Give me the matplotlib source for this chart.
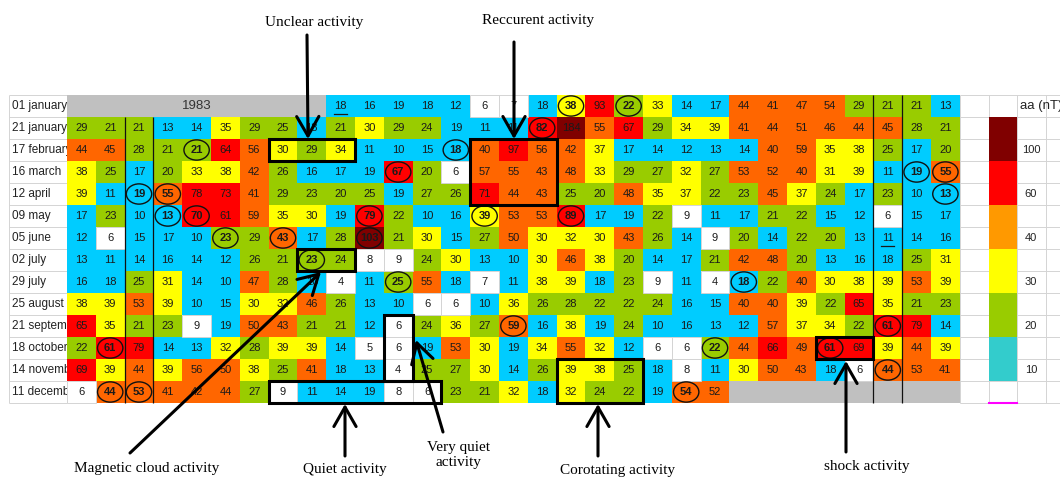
import matplotlib.pyplot as plt
import numpy as np
from matplotlib.colors import ListedColormap, BoundaryNorm
from matplotlib.patches import Rectangle, Ellipse

plt.rcParams['font.family'] = ['Liberation Sans', 'DejaVu Sans']

# Daily aa index (nT), 1983, Bartels-like rows of 27 days + 4 days overlap
rows = ["01 january", "21 january", "17 february", "16 march", "12 april", "09 may",
        "05 june", "02 july", "29 july", "25 august", "21 september", "18 october",
        "14 november", "11 december"]

nan = np.nan
aa = np.array([
    [nan] * 9 + [18, 16, 19, 18, 12, 6, 7, 18, 38, 93, 22, 33, 14, 17, 44, 41, 47, 54, 29, 21, 21, 13],
    [29, 21, 21, 13, 14, 35, 29, 25, 18, 21, 30, 29, 24, 19, 11, 11, 82, 184, 55, 67, 29, 34, 39, 41, 44, 51, 46, 44, 45, 28, 21],
    [44, 45, 28, 21, 21, 64, 56, 30, 29, 34, 11, 10, 15, 18, 40, 97, 56, 42, 37, 17, 14, 12, 13, 14, 40, 59, 35, 38, 25, 17, 20],
    [38, 25, 17, 20, 33, 38, 42, 26, 16, 17, 19, 67, 20, 6, 57, 55, 43, 48, 33, 29, 27, 32, 27, 53, 52, 40, 31, 39, 11, 19, 55],
    [39, 11, 19, 55, 78, 73, 41, 29, 23, 20, 25, 19, 27, 26, 71, 44, 43, 25, 20, 48, 35, 37, 22, 23, 45, 37, 24, 17, 23, 10, 13],
    [17, 23, 10, 13, 70, 61, 59, 35, 30, 19, 79, 22, 10, 16, 39, 53, 53, 89, 17, 19, 22, 9, 11, 17, 21, 22, 15, 12, 6, 15, 17],
    [12, 6, 15, 17, 10, 23, 29, 43, 17, 28, 103, 21, 30, 15, 27, 50, 30, 32, 30, 43, 26, 14, 9, 20, 14, 22, 20, 13, 11, 14, 16],
    [13, 11, 14, 16, 14, 12, 26, 21, 23, 24, 8, 9, 24, 30, 13, 10, 30, 46, 38, 20, 14, 17, 21, 42, 48, 20, 13, 16, 18, 25, 31],
    [16, 18, 25, 31, 14, 10, 47, 28, 10, 4, 11, 25, 55, 18, 7, 11, 38, 39, 18, 23, 9, 11, 4, 18, 22, 40, 30, 38, 39, 53, 39],
    [38, 39, 53, 39, 10, 15, 30, 32, 46, 26, 13, 10, 6, 6, 10, 36, 26, 28, 22, 22, 24, 16, 15, 40, 40, 39, 22, 65, 35, 21, 23],
    [65, 35, 21, 23, 9, 19, 50, 43, 21, 21, 12, 6, 24, 36, 27, 59, 16, 38, 19, 24, 10, 16, 13, 12, 57, 37, 34, 22, 61, 79, 14],
    [22, 61, 79, 14, 13, 32, 28, 39, 39, 14, 5, 6, 19, 53, 30, 19, 34, 55, 32, 12, 6, 6, 22, 44, 66, 49, 61, 69, 39, 44, 39],
    [69, 39, 44, 39, 56, 50, 38, 25, 41, 18, 13, 4, 25, 27, 30, 14, 26, 39, 38, 25, 18, 8, 11, 30, 50, 43, 18, 6, 44, 53, 41],
    [6, 44, 53, 41, 42, 44, 27, 9, 11, 14, 19, 8, 6, 23, 21, 32, 18, 32, 24, 22, 19, 54, 52] + [nan] * 8,
])

# circled days (row, col) and underlined days
circled = [(0, 17), (0, 19), (1, 16), (2, 4), (2, 13), (3, 11), (3, 29), (3, 30), (4, 2), (4, 3),
           (4, 30), (5, 3), (5, 4), (5, 10), (5, 14), (5, 17), (6, 5), (6, 7), (6, 10), (7, 8),
           (8, 11), (8, 23), (10, 15), (10, 28), (11, 1), (11, 22), (11, 26), (12, 28), (13, 1),
           (13, 2), (13, 21)]
underlined = [(0, 9), (6, 28)]

# boxed events: (first row, last row + 1, first col, last col + 1)
boxes = [(2, 3, 7, 10), (2, 5, 14, 17), (7, 8, 8, 10), (13, 14, 7, 13),
         (10, 13, 11, 12), (12, 14, 17, 20), (11, 12, 26, 28)]

bounds = [0, 10, 20, 30, 40, 60, 100, 1000]
cell_colors = ['#FFFFFF', '#00CCFF', '#99CC00', '#FFFF00', '#FF6600', '#FF0000', '#800000']

legend_labels = ['100', '60', '40', '30', '20', '10']
legend_colors = ['#800000', '#FF0000', '#FF9900', '#FFFF00', '#99CC00', '#33CCCC']

# annotations: text, text centre (px), arrow tail (px), arrow tip (px)
notes = [
    ("Unclear activity", (314, 22), (307, 35), (308, 139)),
    ("Reccurent activity", (538, 20), (514, 42), (514, 139)),
    ("Magnetic cloud activity", (147, 468), (130, 453), (321, 272)),
    ("Quiet activity", (345, 469), (345, 456), (345, 404)),
    ("Very quiet\nactivity", (458, 455), (443, 432), (416, 340)),
    ("Corotating activity", (618, 470), (598, 456), (598, 404)),
    ("shock activity", (867, 466), (846, 452), (846, 361)),
]

W, H = 1060, 479
X0, Y0, CW, RH = 67, 95, 28.8, 22.0


def px(x, y):
    return ((x - X0) / CW, (y - Y0) / RH)


fig = plt.figure(figsize=(W / 100, H / 100), dpi=100)
ax = fig.add_axes([0, 0, 1, 1])
ax.set_xlim(-X0 / CW, (W - X0) / CW)
ax.set_ylim((H - Y0) / RH, -Y0 / RH)
ax.axis('off')

nr, nc = aa.shape
cmap = ListedColormap(cell_colors)
cmap.set_bad('#C0C0C0')
norm = BoundaryNorm(bounds, cmap.N)
ax.pcolormesh(np.arange(nc + 1), np.arange(nr + 1), np.ma.masked_invalid(aa),
              cmap=cmap, norm=norm, zorder=1)

# spreadsheet grid on white cells
for r in range(nr):
    for c in range(nc):
        v = aa[r, c]
        if not np.isnan(v) and v < 10:
            ax.add_patch(Rectangle((c, r), 1, 1, fill=False, ec='#d4d4d4', lw=0.7, zorder=2))

for r in range(nr):
    for c in range(nc):
        v = aa[r, c]
        if np.isnan(v):
            continue
        bold = (r, c) in circled
        ax.text(c + 0.5, r + 0.52, str(int(v)), ha='center', va='center', fontsize=8,
                color='#1a1a1a', fontweight='bold' if bold else 'normal', zorder=4)

ax.text(4.5, 0.5, "1983", ha='center', va='center', fontsize=9.5, color='#333333', zorder=4)

for r, c in circled:
    ax.add_patch(Ellipse((c + 0.5, r + 0.5), 0.88, 0.92, fill=False, ec='#111111', lw=1.0, zorder=5))
for r, c in underlined:
    ax.plot([c + 0.28, c + 0.72], [r + 0.85, r + 0.85], color='#1a1a1a', lw=0.9, zorder=5)

# rotation separators
ax.vlines([2, 3], 1, nr, color='#111111', lw=0.9, zorder=3)
ax.vlines([28, 29], 0, nr, color='#111111', lw=0.9, zorder=3)

# label column with faint grid; labels sit under the cells so they get cut at the table edge
ax.hlines(np.arange(nr + 1), -2.0, 0, color='#d4d4d4', lw=0.7, zorder=0)
ax.vlines([-2.0], 0, nr, color='#d4d4d4', lw=0.7, zorder=0)
for r, name in enumerate(rows):
    ax.text(-1.91, r + 0.52, name, ha='left', va='center', fontsize=8.5,
            color='#222222', zorder=0.5)

# right side grid + colour legend
ax.hlines(np.arange(nr + 1), nc, nc + 3.6, color='#d4d4d4', lw=0.7, zorder=0)
ax.vlines([nc, nc + 1, nc + 2, nc + 3], 0, nr, color='#d4d4d4', lw=0.7, zorder=0)
leg_cmap = ListedColormap(legend_colors)
ax.pcolormesh([nc + 1, nc + 2], np.arange(1, 2 * len(legend_labels) + 2, 2),
              np.arange(len(legend_labels)).reshape(-1, 1), cmap=leg_cmap,
              vmin=-0.5, vmax=len(legend_labels) - 0.5, zorder=2)
for i, lab in enumerate(legend_labels):
    ax.text(nc + 2.47, 2 * i + 2.5, lab, ha='center', va='center', fontsize=8, color='#222222')
ax.text(nc + 2.1, 0.5, "aa (nT)", ha='left', va='center', fontsize=9.5, color='#222222')
ax.plot([nc + 1, nc + 2], [nr, nr], color='#FF00FF', lw=1.5)

for r0, r1, c0, c1 in boxes:
    ax.add_patch(Rectangle((c0, r0), c1 - c0, r1 - r0, fill=False, ec='black', lw=2.2, zorder=6))

for text, pos, tail, tip in notes:
    ax.text(*px(*pos), text, ha='center', va='center', fontsize=11,
            family='Liberation Serif', linespacing=1.25, zorder=7)
    ax.annotate('', xy=px(*tip), xytext=px(*tail),
                arrowprops=dict(arrowstyle='->,head_length=0.7,head_width=0.4',
                                lw=2.2, color='black', mutation_scale=20,
                                shrinkA=0, shrinkB=0), zorder=7)

fig.savefig('out.png', dpi=100)
